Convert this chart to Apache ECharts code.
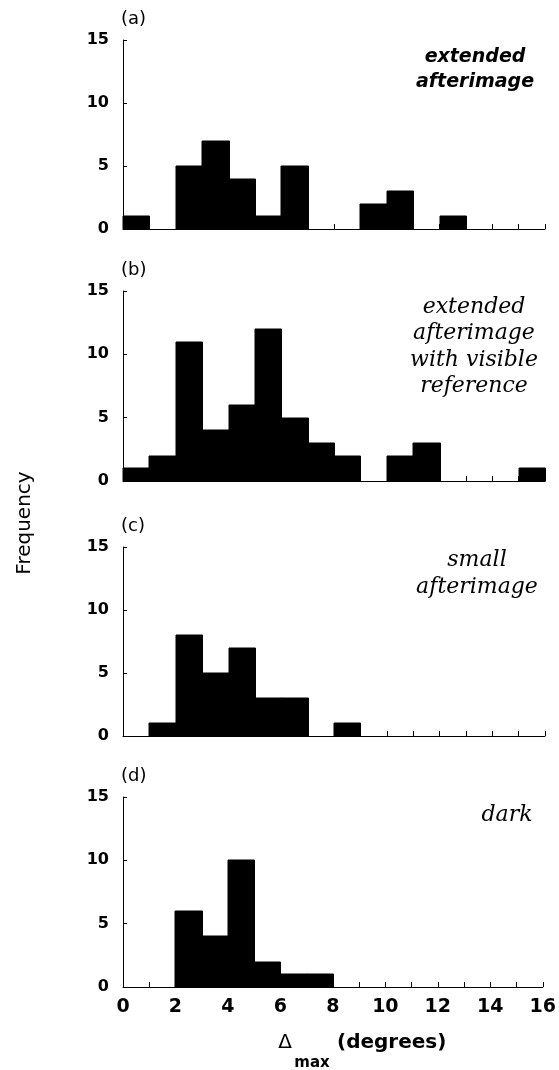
<!DOCTYPE html>
<html>
<head>
<meta charset="utf-8">
<script src="https://cdn.jsdelivr.net/npm/echarts@6/dist/echarts.min.js"></script>
<style>html,body{margin:0;padding:0;background:#fff;}#c{width:559px;height:1070px;}</style>
</head>
<body>
<div id="c"></div>
<script>
// Bin edges: bins [i, i+1) for i = 0..15 (degrees)
const binStarts = [0,1,2,3,4,5,6,7,8,9,10,11,12,13,14,15];
const countsA = [1,0,5,7,4,1,5,0,0,2,3,0,1,0,0,0];
const countsB = [1,2,11,4,6,12,5,3,2,0,2,3,0,0,0,1];
const countsC = [0,1,8,5,7,3,3,0,1,0,0,0,0,0,0,0];
const countsD = [0,0,6,4,10,2,1,1,0,0,0,0,0,0,0,0];
const panelLabels = ['(a)','(b)','(c)','(d)'];
const yTicks = [0,5,10,15];
const xTickLabels = [0,2,4,6,8,10,12,14,16];

const allCounts = [countsA, countsB, countsC, countsD];
const grids = [
  {left:123, right:14, top:40, height:189},
  {left:123, right:14, top:291, height:190},
  {left:123, right:14, top:547, height:189},
  {left:123, right:14, top:797, height:190}
];

const sans = 'DejaVu Sans';
const serif = 'DejaVu Serif';

function renderItem(params, api){
  const p0 = api.coord([api.value(0), api.value(2)]);
  const p1 = api.coord([api.value(1), 0]);
  const x0 = Math.round(p0[0]), x1 = Math.round(p1[0]);
  const y0 = Math.round(p0[1]), y1 = Math.round(p1[1]);
  return {type:'rect', shape:{x:x0, y:y0, width:x1-x0+0.5, height:y1-y0},
    style:{fill:'#000', stroke:'#000', lineWidth:1}};
}

const xAxes = grids.map((g,i)=>({
  type:'value', gridIndex:i, min:0, max:16, interval:1,
  axisLine:{show:true, lineStyle:{color:'#000', width:1}},
  axisTick:{show:true, inside:true, length:5, lineStyle:{color:'#000'}},
  splitLine:{show:false},
  axisLabel:{show: i===3, margin:11, color:'#000', fontFamily:sans, fontWeight:'bold', fontSize:19,
    formatter: v => xTickLabels.indexOf(v) >= 0 ? String(v) : ''}
}));
const yAxes = grids.map((g,i)=>({
  type:'value', gridIndex:i, min:0, max:15, interval:5,
  axisLine:{show:true, lineStyle:{color:'#000', width:1}},
  axisTick:{show:true, inside:true, length:4, lineStyle:{color:'#000'}},
  splitLine:{show:false},
  axisLabel:{margin:14, color:'#000', fontFamily:sans, fontWeight:'bold', fontSize:16,
    formatter: v => yTicks.indexOf(v) >= 0 ? String(v) : ''}
}));
const series = allCounts.map((counts,i)=>({
  type:'custom', xAxisIndex:i, yAxisIndex:i,
  renderItem: renderItem,
  encode:{x:[0,1], y:2},
  data: binStarts.map((s,k)=>[s, s+1, counts[k]]).filter(d=>d[2]>0)
}));

const graphic = [];
grids.forEach((g,i)=>{
  graphic.push({type:'text', left:121, top:g.top-30, style:{text:panelLabels[i], font:'18px "'+sans+'"', fill:'#000'}});
});
// Annotations
graphic.push({type:'text', x:475, y:70, style:{text:'extended\nafterimage', font:'italic bold 19px "'+sans+'"', fill:'#000', align:'center', verticalAlign:'middle', lineHeight:25}});
graphic.push({type:'text', x:474, y:347, style:{text:'extended\nafterimage\nwith visible\nreference', font:'italic 22px "'+serif+'"', fill:'#000', align:'center', verticalAlign:'middle', lineHeight:26.5}});
graphic.push({type:'text', x:477, y:574, style:{text:'small\nafterimage', font:'italic 22px "'+serif+'"', fill:'#000', align:'center', verticalAlign:'middle', lineHeight:27}});
graphic.push({type:'text', x:507, y:815, style:{text:'dark', font:'italic 22px "'+serif+'"', fill:'#000', align:'center', verticalAlign:'middle'}});
// Frequency
graphic.push({type:'text', x:25, y:523, rotation:Math.PI/2, style:{text:'Frequency', font:'20px "'+sans+'"', fill:'#000', align:'center', verticalAlign:'middle'}});
// x axis title
graphic.push({type:'text', x:285, y:1043, style:{text:'Δ', font:'20px "'+sans+'"', fill:'#000', align:'center', verticalAlign:'middle'}});
graphic.push({type:'text', x:312, y:1063, style:{text:'max', font:'bold 15px "'+sans+'"', fill:'#000', align:'center', verticalAlign:'middle'}});
graphic.push({type:'text', x:337, y:1043, style:{text:'(degrees)', font:'bold 20px "'+sans+'"', fill:'#000', align:'left', verticalAlign:'middle'}});

const chart = echarts.init(document.getElementById('c'), null, {renderer:'canvas'});
chart.setOption({
  backgroundColor:'#fff',
  animation:false,
  grid: grids,
  xAxis: xAxes,
  yAxis: yAxes,
  series: series,
  graphic: graphic
});
</script>
</body>
</html>
